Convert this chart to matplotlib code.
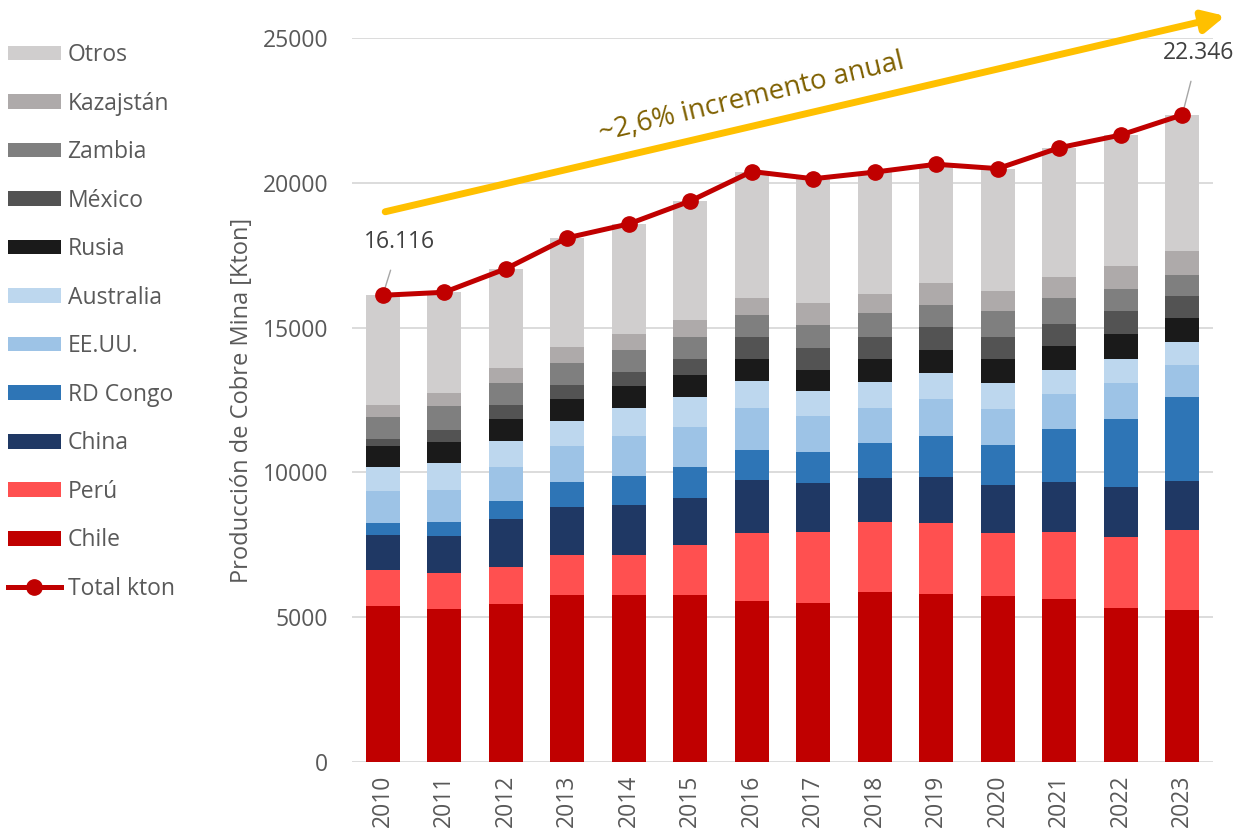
import numpy as np
import matplotlib
matplotlib.use("Agg")
import matplotlib.pyplot as plt

# ----------------------------------------------------------------------------------------------------------------------
# Datos (kton de cobre de mina)

years = ["2010", "2011", "2012", "2013", "2014", "2015", "2016",
         "2017", "2018", "2019", "2020", "2021", "2022", "2023"]

chile = [5400, 5280, 5450, 5765, 5765, 5765, 5545, 5500, 5855, 5810, 5730, 5640, 5325, 5245]
peru = [1235, 1245, 1270, 1370, 1370, 1725, 2350, 2430, 2435, 2440, 2165, 2300, 2445, 2775]
china = [1200, 1280, 1660, 1685, 1730, 1640, 1855, 1690, 1510, 1590, 1685, 1730, 1720, 1700]
rd_congo = [410, 485, 620, 850, 1015, 1060, 1030, 1070, 1200, 1420, 1370, 1820, 2360, 2880]
eeuu = [1100, 1115, 1190, 1230, 1380, 1380, 1460, 1270, 1240, 1290, 1250, 1200, 1230, 1100]
australia = [840, 925, 890, 890, 970, 1020, 920, 860, 880, 880, 880, 830, 850, 800]
rusia = [710, 710, 760, 760, 760, 760, 770, 700, 810, 810, 850, 850, 840, 840]
mexico = [270, 440, 480, 480, 490, 580, 740, 760, 740, 790, 740, 750, 790, 750]
zambia = [760, 800, 760, 760, 740, 740, 760, 800, 840, 750, 890, 890, 760, 720]
kazajstan = [390, 450, 530, 540, 550, 580, 580, 760, 640, 770, 720, 750, 800, 840]
otros = [3796, 3490, 3420, 3770, 3810, 4120, 4380, 4300, 4220, 4090, 4210, 4450, 4530, 4696]

total_kton = [16116, 16220, 17030, 18100, 18580, 19370, 20390,
              20140, 20370, 20640, 20490, 21210, 21650, 22346]

series_names = ["Chile", "Perú", "China", "RD Congo", "EE.UU.", "Australia",
                "Rusia", "México", "Zambia", "Kazajstán", "Otros"]
series_values = [chile, peru, china, rd_congo, eeuu, australia,
                 rusia, mexico, zambia, kazajstan, otros]
series_colors = ["#C00000", "#FF5050", "#1F3864", "#2E75B6", "#9DC3E6", "#BDD7EE",
                 "#1A1A1A", "#535353", "#7F7F7F", "#AEAAAA", "#D0CECE"]

# ----------------------------------------------------------------------------------------------------------------------

plt.rcParams["font.family"] = ["Open Sans", "DejaVu Sans"]
gray_text = "#595959"

fig = plt.figure(figsize=(12.4, 8.35), dpi=100)
ax = fig.add_axes([352 / 1240, 73 / 835, 861 / 1240, 724 / 835])

x = np.arange(len(years))
bottom = np.zeros(len(years))
bar_handles = []
for name, vals, col in zip(series_names, series_values, series_colors):
    b = ax.bar(x, vals, width=0.55, bottom=bottom, color=col, label=name, zorder=2)
    bar_handles.append(b)
    bottom += np.array(vals)

line, = ax.plot(x, total_kton, color="#C00000", lw=3.6, marker="o", markersize=11,
                label="Total kton", zorder=4)

# Ejes y grilla
ax.set_xlim(-0.5, 13.5)
ax.set_ylim(0, 25000)
ax.set_yticks(range(0, 25001, 5000))
ax.set_xticks(x)
ax.set_xticklabels(years, rotation=90)
ax.grid(axis="y", color="#D9D9D9", lw=1.3, zorder=0)
ax.set_axisbelow(True)
for s in ax.spines.values():
    s.set_visible(False)
ax.tick_params(length=0, labelsize=16.5, colors=gray_text, pad=9)
ax.tick_params(axis="y", pad=17)
ax.set_ylabel("Producción de Cobre Mina [Kton]", fontsize=17, color=gray_text, labelpad=6)

# Flecha de tendencia
ax.annotate("", xy=(13.7, 25760), xytext=(0.04, 19000),
            arrowprops=dict(arrowstyle="-|>,head_length=1.3,head_width=0.65",
                            color="#FFC000", lw=5, shrinkA=0, shrinkB=0),
            annotation_clip=False, zorder=5)
ax.text(6.0, 22950, "~2,6% incremento anual", fontsize=20, color="#7F6000",
        rotation=13.5, ha="center", va="center", rotation_mode="anchor")

# Etiquetas de datos
ax.annotate("16.116", xy=(0, total_kton[0]), xytext=(0.27, 17950), fontsize=16.5,
            color="#404040", ha="center", va="center",
            arrowprops=dict(arrowstyle="-", color="#A6A6A6", lw=1, shrinkA=10, shrinkB=2))
ax.annotate("22.346", xy=(13, total_kton[-1]), xytext=(13.26, 24480), fontsize=16.5,
            color="#404040", ha="center", va="center", annotation_clip=False,
            arrowprops=dict(arrowstyle="-", color="#A6A6A6", lw=1, shrinkA=10, shrinkB=2))

# Leyenda
handles = bar_handles[::-1] + [line]
labels = series_names[::-1] + ["Total kton"]
fig.legend(handles, labels, loc="upper left", bbox_to_anchor=(8 / 1240, 1 - 43 / 835),
           frameon=False, fontsize=16.5, handlelength=2.3, handleheight=0.62,
           handletextpad=0.3, labelspacing=1.07, borderpad=0, borderaxespad=0,
           labelcolor=gray_text)

fig.savefig("out.png", dpi=100)
